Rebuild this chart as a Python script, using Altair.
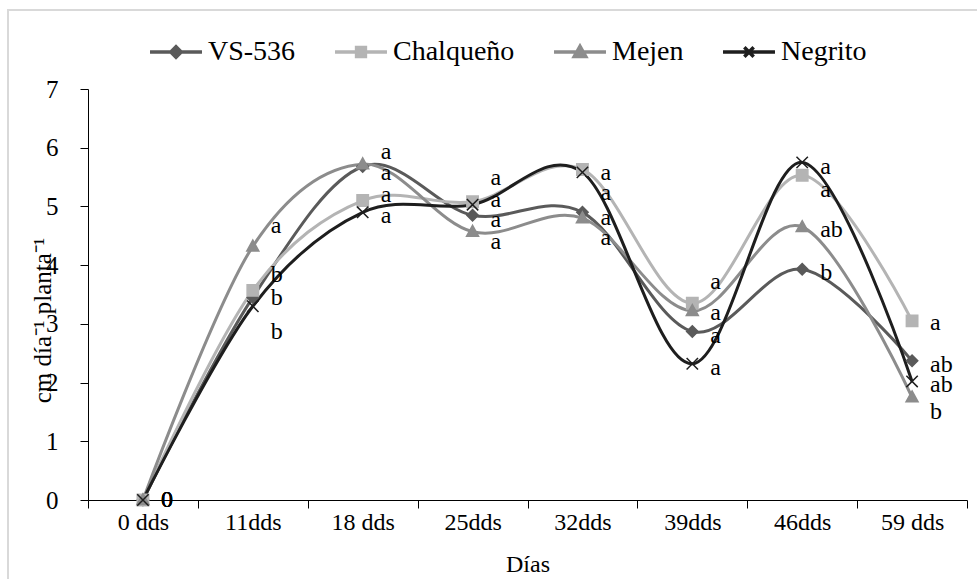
import altair as alt
import pandas as pd

dates = ["0 dds", "11dds", "18 dds", "25dds", "32dds", "39dds", "46dds", "59 dds"]
series = ["VS-536", "Chalqueño", "Mejen", "Negrito"]
colors = ["#5a5a5a", "#b4b4b4", "#8c8c8c", "#1e1e1e"]

vs536 = [0, 3.45, 5.68, 4.85, 4.90, 2.87, 3.93, 2.37]
chalqueno = [0, 3.57, 5.10, 5.08, 5.63, 3.35, 5.53, 3.05]
mejen = [0, 4.32, 5.72, 4.57, 4.80, 3.22, 4.65, 1.75]
negrito = [0, 3.30, 4.90, 5.03, 5.58, 2.32, 5.75, 2.02]

# significance letters and the height (in data units) at which each is written
lab_vs536 = ["0", "b", "a", "a", "a", "a", "b", "ab"]
lab_chalqueno = ["0", "b", "a", "a", "a", "a", "a", "a"]
lab_mejen = ["0", "a", "a", "a", "a", "a", "ab", "b"]
lab_negrito = ["0", "b", "a", "a", "a", "a", "a", "ab"]

laby_vs536 = [0, 3.83, 5.57, 4.77, 4.80, 2.79, 3.87, 2.30]
laby_chalqueno = [0, 3.44, 5.20, 5.49, 5.57, 3.71, 5.28, 3.02]
laby_mejen = [0, 4.66, 5.93, 4.40, 4.46, 3.19, 4.60, 1.50]
laby_negrito = [0, 2.86, 4.84, 5.11, 5.23, 2.25, 5.67, 1.96]

values = [vs536, chalqueno, mejen, negrito]
labels = [lab_vs536, lab_chalqueno, lab_mejen, lab_negrito]
label_ys = [laby_vs536, laby_chalqueno, laby_mejen, laby_negrito]

rows = []
for s, vals, labs, lys in zip(series, values, labels, label_ys):
    for i, (d, v, l, ly) in enumerate(zip(dates, vals, labs, lys)):
        rows.append({"date": d, "idx": i, "series": s, "value": v, "label": l, "label_y": ly})
df = pd.DataFrame(rows)

FONT = "Liberation Serif"

marker_paths = [
    "M0,-1L1,0L0,1L-1,0Z",
    "M-1,-1H1V1H-1Z",
    "M0,-1.1L1.05,0.8H-1.05Z",
    "M-1,-1L1,1M-1,1L1,-1",
]
legend_paths = [
    "M-1,0H1M0,-0.2L0.2,0L0,0.2L-0.2,0Z",
    "M-1,0H1M-0.17,-0.17H0.17V0.17H-0.17Z",
    "M-1,0H1M0,-0.22L0.22,0.17H-0.22Z",
    "M-1,0H1M-0.18,-0.18L0.18,0.18M-0.18,0.18L0.18,-0.18",
]

x_enc = alt.X(
    "date:N",
    sort=dates,
    bandPosition=0.5,
    scale=alt.Scale(type="band", domain=dates, paddingInner=0, paddingOuter=0),
    axis=alt.Axis(
        title="Días",
        tickBand="extent",
        labelAngle=0,
        labelFont=FONT,
        labelFontSize=24,
        labelColor="black",
        labelPadding=2,
        tickSize=8,
        tickColor="black",
        domainColor="black",
        titleFont=FONT,
        titleFontSize=24,
        titleFontWeight="normal",
        titleColor="black",
        titlePadding=18,
    ),
)
y_enc = alt.Y(
    "value:Q",
    scale=alt.Scale(domain=[0, 7], nice=False, zero=True),
    axis=alt.Axis(
        title="cm día⁻¹ planta⁻¹",
        values=[0, 1, 2, 3, 4, 5, 6, 7],
        format="d",
        grid=False,
        labelFont=FONT,
        labelFontSize=25,
        labelColor="black",
        labelPadding=22,
        tickSize=8,
        tickColor="black",
        domainColor="black",
        titleFont=FONT,
        titleFontSize=25,
        titleFontWeight="normal",
        titleColor="black",
        titleX=-46,
        titleY=231,
        titleBaseline="middle",
    ),
)

base = alt.Chart(df)

line_layers = []
point_layers = []
for s, c, path in zip(series, colors, marker_paths):
    sub = base.transform_filter(alt.datum.series == s)
    line_layers.append(
        sub.mark_line(interpolate="cardinal", tension=0, strokeWidth=3, color=c).encode(
            x=x_enc, y=y_enc, order=alt.Order("idx:Q")
        )
    )
    point_layers.append(
        sub.mark_point(shape=path, size=130, strokeWidth=1.5, opacity=1, fill=c, stroke=c).encode(
            x=x_enc, y="value:Q"
        )
    )

color_scale = alt.Scale(domain=series, range=colors)
legend_layer = base.mark_point(opacity=0, size=10).encode(
    x=x_enc,
    y="value:Q",
    fill=alt.Fill("series:N", scale=color_scale, title=None),
    stroke=alt.Stroke("series:N", scale=color_scale, title=None),
    shape=alt.Shape("series:N", scale=alt.Scale(domain=series, range=legend_paths), title=None),
)

texts = base.mark_text(
    align="left", baseline="middle", dx=18, font=FONT, fontSize=24, color="black"
).encode(
    x=x_enc,
    y=alt.Y("label_y:Q"),
    text="label:N",
)

frame = alt.Chart(pd.DataFrame({"frame": [1]})).mark_rect(
    fillOpacity=0, stroke="#d9d9d9", strokeWidth=2
).encode(
    x=alt.value(-80), x2=alt.value(1000), y=alt.value(-79), y2=alt.value(1000)
)

chart = (
    alt.layer(frame, *line_layers, *point_layers, legend_layer, texts)
    .properties(
        width=879,
        height=411,
        autosize=alt.AutoSizeParams(type="none"),
        padding={"left": 88, "top": 89, "right": 10, "bottom": 79},
        background="white",
    )
    .configure_view(stroke=None)
    .configure_legend(
        orient="none",
        legendX=60,
        legendY=-65,
        direction="horizontal",
        symbolSize=2700,
        symbolStrokeWidth=3.5,
        symbolOpacity=1,
        labelFont=FONT,
        labelFontSize=28,
        labelColor="black",
        labelOffset=4,
        columnPadding=32,
        padding=0,
        labelLimit=400,
    )
)

chart.save("out.html", embed_options={"renderer": "svg", "actions": False})
